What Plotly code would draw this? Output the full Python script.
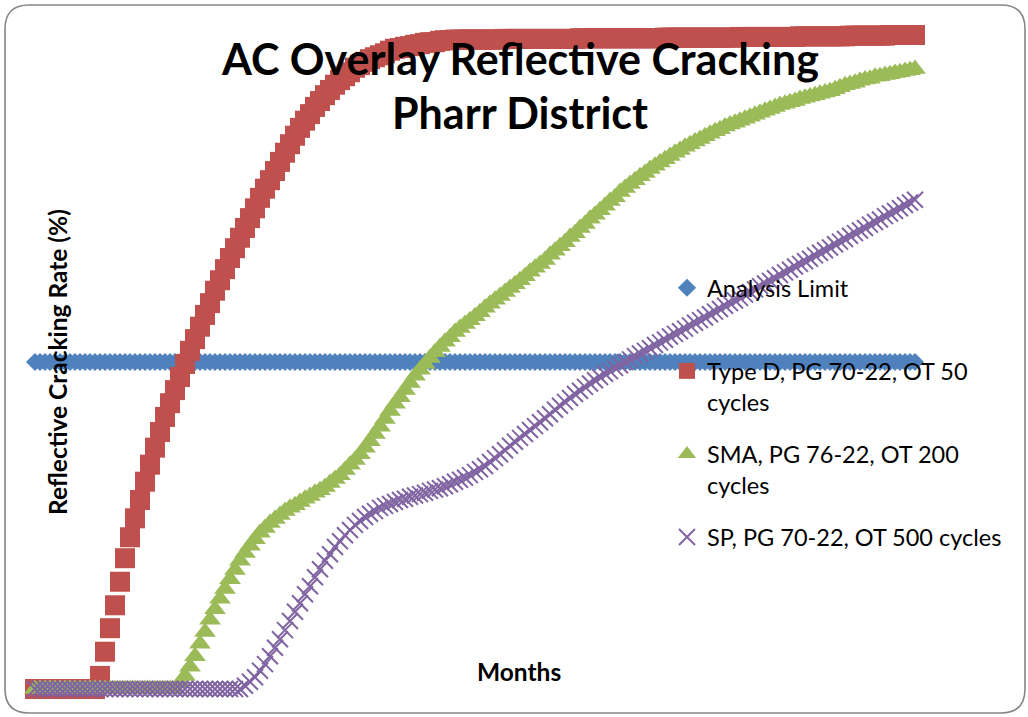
import plotly.graph_objects as go

# ---------------- data ----------------
MONTHS = list(range(0, 177))

ANALYSIS_LIMIT_PCT = 50.0

TYPE_D = [
    0, 0, 0, 0, 0, 0, 0, 0, 0, 0, 0, 0, 0,
    2.0, 5.7, 9.3, 12.8, 16.4, 20.0, 23.2, 26.1, 28.9, 31.7,
    34.3, 36.9, 39.3, 41.6, 43.7, 45.7, 47.7, 49.7, 51.7, 53.5,
    55.4, 57.2, 59.0, 60.9, 62.5, 64.2, 65.9, 67.4, 69.0, 70.5,
    72.0, 73.5, 75.1, 76.5, 77.8, 79.2, 80.6, 82.0, 83.3, 84.6,
    85.8, 86.9, 87.9, 89.0, 89.9, 90.8, 91.6, 92.4, 93.1, 93.7,
    94.3, 95.0, 95.4, 95.9, 96.3, 96.6, 96.9, 97.2, 97.6, 97.9,
    98.0, 98.2, 98.3, 98.5, 98.6, 98.8, 98.9, 98.9, 99.1, 99.2, 99.2,
    99.3, 99.3, 99.3, 99.3, 99.3, 99.3, 99.3, 99.3, 99.3, 99.3,
    99.4, 99.4, 99.4, 99.4, 99.4, 99.4, 99.4, 99.4, 99.4, 99.4, 99.4, 99.4, 99.4, 99.4, 99.4,
    99.5, 99.5, 99.5, 99.5, 99.5, 99.5, 99.5, 99.5, 99.5, 99.5, 99.5, 99.5, 99.5, 99.5, 99.5, 99.5, 99.5,
    99.6, 99.6, 99.6, 99.6, 99.6, 99.6, 99.6, 99.6, 99.6, 99.6, 99.6, 99.6, 99.6, 99.6, 99.6,
    99.7, 99.7, 99.7, 99.7, 99.7, 99.7, 99.7, 99.7, 99.7, 99.7, 99.7, 99.7,
    99.8, 99.8, 99.8, 99.8, 99.8, 99.8, 99.8, 99.8, 99.8, 99.8,
    99.9, 99.9, 99.9, 99.9, 99.9, 99.9, 99.9, 99.9,
    100.0, 100.0, 100.0, 100.0, 100.0, 100.0,
]

SMA = [
    0, 0, 0, 0, 0, 0, 0, 0, 0, 0, 0, 0, 0, 0, 0, 0, 0, 0, 0, 0,
    0, 0, 0, 0, 0, 0, 0, 0, 0,
    0.9, 2.0, 3.4, 5.0, 6.9, 8.7, 10.6, 12.2, 13.8, 15.3,
    16.8, 18.2, 19.6, 20.8, 21.9, 22.9, 23.9, 24.6, 25.4, 26.0,
    26.6, 27.2, 27.7, 28.1, 28.6, 29.1, 29.5, 30.0, 30.4, 30.9,
    31.5, 32.1, 32.7, 33.5, 34.3, 35.0, 35.9, 36.9, 37.9, 39.0,
    40.1, 41.3, 42.5, 43.6, 44.6, 45.7, 46.8, 47.9, 48.8, 49.7,
    50.6, 51.5, 52.3, 53.1, 53.8, 54.6, 55.2, 55.8, 56.4, 57.0,
    57.6, 58.3, 58.9, 59.5, 60.1, 60.7, 61.3, 61.9, 62.5, 63.1,
    63.8, 64.4, 65.0, 65.6, 66.4, 67.0, 67.7, 68.3, 69.1, 69.7,
    70.5, 71.1, 71.9, 72.5, 73.2, 73.9, 74.6, 75.2, 76.0, 76.6,
    77.2, 77.8, 78.4, 78.9, 79.5, 80.0, 80.5, 81.0, 81.5, 82.0,
    82.4, 82.9, 83.3, 83.7, 84.1, 84.5, 84.9, 85.3, 85.6, 86.0,
    86.3, 86.6, 86.9, 87.2, 87.5, 87.8, 88.1, 88.4, 88.7, 89.0,
    89.3, 89.5, 89.7, 89.9, 90.2, 90.4, 90.6, 90.8, 91.0, 91.2,
    91.4, 91.7, 92.0, 92.3, 92.5, 92.7, 93.0, 93.2, 93.3, 93.6,
    93.7, 93.9, 94.0, 94.2, 94.3, 94.5, 94.6, 94.8,
]

SP = [
    0, 0, 0, 0, 0, 0, 0, 0, 0, 0, 0, 0, 0, 0, 0, 0, 0, 0, 0, 0,
    0, 0, 0, 0, 0, 0, 0, 0, 0, 0, 0, 0, 0, 0, 0, 0, 0, 0, 0, 0,
    0, 0,
    0.5, 1.1, 1.8, 2.8, 3.8, 5.0, 6.3, 7.6, 9.0, 10.4,
    11.8, 13.1, 14.5, 15.7, 17.1, 18.3, 19.6, 20.6, 21.7, 22.6,
    23.5, 24.3, 25.1, 25.7, 26.3, 26.8, 27.2, 27.7, 28.0, 28.3,
    28.6, 28.9, 29.1, 29.4, 29.6, 29.8, 30.0, 30.3, 30.5, 30.7,
    31.0, 31.3, 31.7, 32.0, 32.3, 32.7, 33.2, 33.6, 34.1, 34.7,
    35.3, 35.9, 36.5, 37.2, 37.8, 38.4, 39.0, 39.6, 40.2, 40.8,
    41.4, 42.0, 42.7, 43.3, 43.9, 44.5, 45.1, 45.6, 46.2, 46.7,
    47.2, 47.7, 48.2, 48.6, 49.1, 49.5, 50.0,
    50.4, 50.9, 51.3, 51.7, 52.1, 52.6, 53.0, 53.4, 53.9, 54.3,
    54.7, 55.1, 55.6, 56.0, 56.4, 56.8, 57.3, 57.7, 58.1, 58.6,
    59.0, 59.4, 59.8, 60.3, 60.7, 61.1, 61.6, 62.0, 62.4, 62.8,
    63.3, 63.7, 64.1, 64.6, 65.0, 65.4, 65.8, 66.3, 66.7, 67.1,
    67.5, 68.0, 68.4, 68.8, 69.3, 69.7, 70.1, 70.5, 71.0, 71.4,
    71.8, 72.3, 72.7, 73.1, 73.5, 74.0, 74.4, 74.8,
]

assert len(TYPE_D) == len(MONTHS), len(TYPE_D)
assert len(SMA) == len(MONTHS), len(SMA)
assert len(SP) == len(MONTHS), len(SP)

LIMIT = [ANALYSIS_LIMIT_PCT for _ in MONTHS]

NAMES = [
    "Analysis Limit<br> ",
    "Type D, PG 70-22, OT 50<br>cycles",
    "SMA, PG 76-22, OT 200<br>cycles",
    "SP, PG 70-22, OT 500 cycles",
]

# ---------------- figure ----------------
W, H = 1028, 717
L, R, T, B = 35, 113, 35, 28
PW, PH = W - L - R, H - T - B
FONT = "Lato, Calibri, 'Open Sans', sans-serif"

fig = go.Figure()
fig.add_trace(go.Scatter(x=MONTHS, y=LIMIT, mode="markers", name=NAMES[0], legendgroup="a",
                         cliponaxis=False,
                         marker=dict(symbol="diamond", size=14, color="#4F81BD")))
fig.add_trace(go.Scatter(x=MONTHS, y=TYPE_D, mode="markers", name=NAMES[1], legendgroup="b",
                         cliponaxis=False,
                         marker=dict(symbol="square", size=20, color="#C0504D")))
fig.add_trace(go.Scatter(x=MONTHS, y=SMA, mode="markers", name=NAMES[2], legendgroup="c",
                         cliponaxis=False,
                         marker=dict(symbol="triangle-up", size=19, color="#9BBB59")))
fig.add_trace(go.Scatter(x=MONTHS, y=SP, mode="markers", name=NAMES[3], legendgroup="d",
                         cliponaxis=False,
                         marker=dict(symbol="x-thin", size=16, color="#8064A2",
                                     line=dict(color="#8064A2", width=2))))


def px(xp):
    return (xp - L) / PW


def py(yp):
    return (H - B - yp) / PH


# rounded chart border
x0, x1, y0, y1, rr = 5, 1025, 5, 713, 24
pts = [
    ("M", (x0 + rr, y0)), ("L", (x1 - rr, y0)), ("Q", (x1, y0), (x1, y0 + rr)),
    ("L", (x1, y1 - rr)), ("Q", (x1, y1), (x1 - rr, y1)), ("L", (x0 + rr, y1)),
    ("Q", (x0, y1), (x0, y1 - rr)), ("L", (x0, y0 + rr)), ("Q", (x0, y0), (x0 + rr, y0)),
]
path = ""
for seg in pts:
    cmd = seg[0]
    coords = " ".join(f"{px(a):.5f},{py(b):.5f}" for a, b in seg[1:])
    path += f"{cmd} {coords} "
path += "Z"
fig.add_shape(type="path", path=path, xref="paper", yref="paper",
              line=dict(color="#868686", width=1.6), layer="below")

# title (two lines)
fig.add_annotation(text="<b>AC Overlay Reflective Cracking</b>", x=px(520), y=py(58),
                   xref="paper", yref="paper", showarrow=False, xanchor="center", yanchor="middle",
                   font=dict(family=FONT, size=43, color="#000000"))
fig.add_annotation(text="<b>Pharr District</b>", x=px(520), y=py(113),
                   xref="paper", yref="paper", showarrow=False, xanchor="center", yanchor="middle",
                   font=dict(family=FONT, size=43, color="#000000"))

# axis titles
fig.add_annotation(text="<b>Reflective Cracking Rate (%)</b>", x=px(57), y=py(362),
                   xref="paper", yref="paper", showarrow=False, textangle=-90,
                   xanchor="center", yanchor="middle",
                   font=dict(family=FONT, size=24.5, color="#000000"))
fig.add_annotation(text="<b>Months</b>", x=px(519), y=py(671),
                   xref="paper", yref="paper", showarrow=False,
                   xanchor="center", yanchor="middle",
                   font=dict(family=FONT, size=24.5, color="#000000"))

fig.update_layout(
    width=W, height=H,
    margin=dict(l=L, r=R, t=T, b=B),
    paper_bgcolor="white", plot_bgcolor="rgba(0,0,0,0)",
    font=dict(family=FONT, color="#000000"),
    showlegend=True,
    hovermode=False,
    legend=dict(x=px(667), y=py(266), xanchor="left", yanchor="top",
                bgcolor="rgba(0,0,0,0)", font=dict(family=FONT, size=23.5, color="#000000"),
                valign="top", tracegroupgap=19, itemsizing="trace"),
    xaxis=dict(range=[0, 176], visible=False, showgrid=False, zeroline=False),
    yaxis=dict(range=[0, 100], visible=False, showgrid=False, zeroline=False),
)

fig.write_html("out.html", config={"displayModeBar": False, "staticPlot": True},
               post_script="document.body.style.margin='0px';")
